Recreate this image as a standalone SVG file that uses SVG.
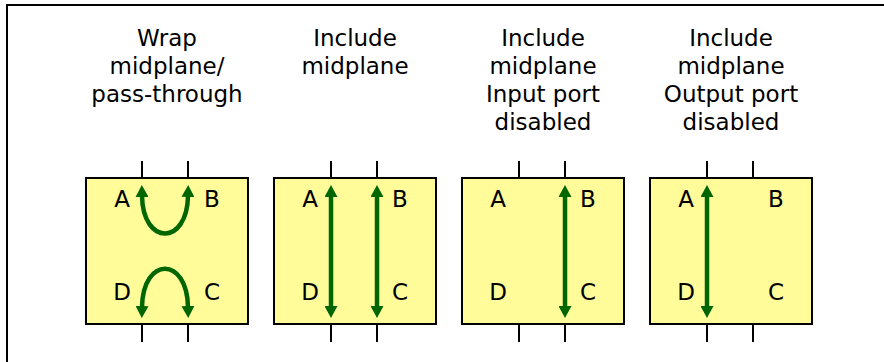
<svg xmlns="http://www.w3.org/2000/svg" width="884" height="362" viewBox="0 0 884 362">
  <defs>
    <marker id="head" viewBox="0 0 12 13" markerWidth="12" markerHeight="13" refX="1" refY="6.5" orient="auto-start-reverse" markerUnits="userSpaceOnUse">
      <path d="M0,0 L12,6.5 L0,13 z" fill="#006600"/>
    </marker>
    <style>
      .frame { stroke: #000; stroke-width: 2; fill: none; }
      .box { fill: #FFFC99; stroke: #000; stroke-width: 2; }
      .tick { stroke: #000; stroke-width: 2; }
      .title { font-family: "DejaVu Sans", Verdana, sans-serif; font-size: 23px; fill: #000; text-anchor: middle; }
      .port { font-family: "DejaVu Sans", Verdana, sans-serif; font-size: 23px; fill: #000; text-anchor: middle; }
      .flow { stroke: #006600; stroke-width: 4.5; fill: none; marker-start: url(#head); marker-end: url(#head); }
    </style>
  </defs>

  <rect width="884" height="362" fill="#fff"/>
  <!-- outer frame (top and left edges) -->
  <path class="frame" d="M7,362 L7,5 L884,5"/>

  <!-- mode 1: wrap -->
  <g id="wrap">
    <text class="title" x="167" y="46">Wrap</text>
    <text class="title" x="167" y="74">midplane/</text>
    <text class="title" x="167" y="102">pass-through</text>
    <path class="tick" d="M142,161 V178 M188,161 V178 M142,324 V342 M188,324 V342"/>
    <rect class="box" x="86" y="178" width="162" height="146"/>
    <text class="port" x="122" y="207">A</text>
    <text class="port" x="212" y="207">B</text>
    <text class="port" x="122" y="300">D</text>
    <text class="port" x="212" y="300">C</text>
  </g>

  <!-- mode 2: include -->
  <g id="include">
    <text class="title" x="355" y="46">Include</text>
    <text class="title" x="355" y="74">midplane</text>
    <path class="tick" d="M331,161 V178 M377,161 V178 M331,324 V342 M377,324 V342"/>
    <rect class="box" x="274" y="178" width="162" height="146"/>
    <text class="port" x="310" y="207">A</text>
    <text class="port" x="400" y="207">B</text>
    <text class="port" x="310" y="300">D</text>
    <text class="port" x="400" y="300">C</text>
  </g>

  <!-- mode 3: input port disabled -->
  <g id="input-disabled">
    <text class="title" x="543" y="46">Include</text>
    <text class="title" x="543" y="74">midplane</text>
    <text class="title" x="543" y="102">Input port</text>
    <text class="title" x="543" y="130">disabled</text>
    <path class="tick" d="M519,161 V178 M565,161 V178 M519,324 V342 M565,324 V342"/>
    <rect class="box" x="462" y="178" width="162" height="146"/>
    <text class="port" x="498" y="207">A</text>
    <text class="port" x="588" y="207">B</text>
    <text class="port" x="498" y="300">D</text>
    <text class="port" x="588" y="300">C</text>
  </g>

  <!-- mode 4: output port disabled -->
  <g id="output-disabled">
    <text class="title" x="731" y="46">Include</text>
    <text class="title" x="731" y="74">midplane</text>
    <text class="title" x="731" y="102">Output port</text>
    <text class="title" x="731" y="130">disabled</text>
    <path class="tick" d="M707,161 V178 M753,161 V178 M707,324 V342 M753,324 V342"/>
    <rect class="box" x="650" y="178" width="162" height="146"/>
    <text class="port" x="686" y="207">A</text>
    <text class="port" x="776" y="207">B</text>
    <text class="port" x="686" y="300">D</text>
    <text class="port" x="776" y="300">C</text>
  </g>

  <!-- signal paths -->
  <g id="connectors">
    <path class="flow" d="M142,196 C143,246 187,246 188,196"/>
    <path class="flow" d="M142,307 C143,256 187,256 188,307"/>
    <path class="flow" d="M331,196 V307"/>
    <path class="flow" d="M377,196 V307"/>
    <path class="flow" d="M565,196 V307"/>
    <path class="flow" d="M707,196 V307"/>
  </g>
</svg>
